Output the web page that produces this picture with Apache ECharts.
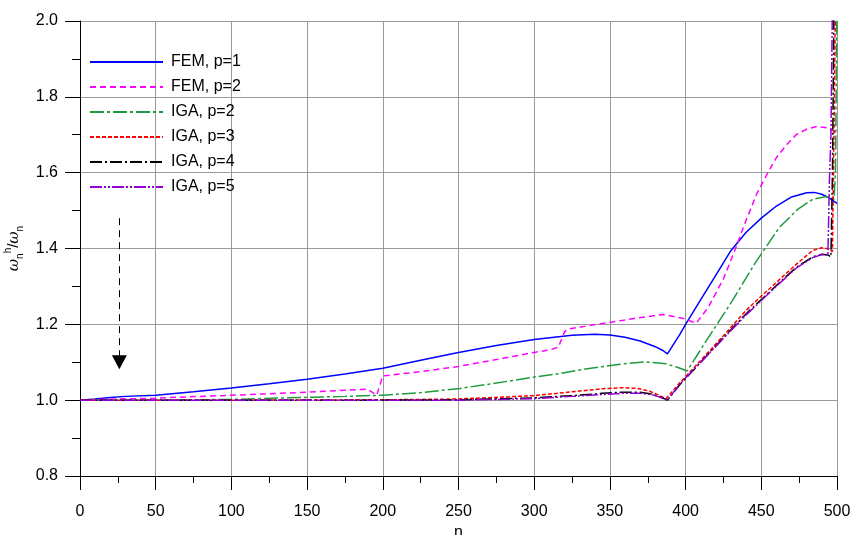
<!DOCTYPE html>
<html>
<head>
<meta charset="utf-8">
<script src="https://cdn.jsdelivr.net/npm/echarts@6/dist/echarts.min.js"></script>
<style>html,body{margin:0;padding:0;background:#fff}#c{width:855px;height:535px}</style>
</head>
<body>
<div id="c"></div>
<script>
// ---- data: [n, omega_h/omega] ----
var femP1 = [[0,1.000],[10,1.003],[20,1.007],[30,1.010],[50,1.013],[75,1.022],[100,1.032],[125,1.043],[150,1.055],[175,1.069],[200,1.084],[225,1.105],[250,1.126],[275,1.144],[300,1.160],[325,1.171],[340,1.174],[350,1.172],[360,1.166],[370,1.156],[380,1.141],[385,1.131],[388,1.122],[396,1.172],[400,1.200],[410,1.265],[420,1.330],[430,1.395],[440,1.443],[450,1.480],[460,1.512],[470,1.536],[480,1.547],[485,1.548],[490,1.543],[495,1.533],[500,1.519]];
var femP2 = [[0,1.000],[25,1.003],[50,1.005],[66,1.008],[100,1.013],[132,1.018],[150,1.021],[175,1.026],[190,1.029],[196,1.013],[200,1.064],[225,1.075],[250,1.089],[275,1.107],[300,1.126],[310,1.132],[316,1.140],[320,1.180],[322,1.187],[335,1.196],[350,1.205],[365,1.215],[385,1.226],[398,1.216],[407,1.203],[415,1.245],[425,1.320],[433,1.400],[440,1.475],[447,1.544],[455,1.605],[460,1.640],[467,1.675],[473,1.700],[480,1.715],[487,1.722],[494,1.718],[500,1.705]];
var igaP2 = [[0,1.000],[50,1.000],[100,1.002],[145,1.007],[175,1.010],[200,1.013],[225,1.020],[251,1.031],[275,1.045],[300,1.061],[317,1.070],[335,1.083],[357,1.095],[374,1.101],[387,1.096],[395,1.086],[401,1.077],[415,1.165],[431,1.263],[446,1.362],[462,1.456],[474,1.503],[484,1.530],[493,1.537],[498,1.530],[499,1.600],[500,2.050]];
var igaP3 = [[0,1.000],[100,1.000],[200,1.001],[250,1.003],[300,1.012],[325,1.022],[345,1.030],[358,1.033],[368,1.031],[376,1.024],[382,1.014],[387,1.004],[396,1.045],[410,1.105],[425,1.170],[440,1.237],[451,1.278],[462,1.318],[473,1.358],[484,1.395],[490,1.402],[494,1.399],[497,1.392],[498,1.700],[499,2.050]];
var igaP4 = [[0,1.000],[200,1.000],[250,1.001],[300,1.006],[325,1.012],[345,1.018],[358,1.021],[370,1.021],[378,1.016],[383,1.009],[388,1.000],[396,1.040],[410,1.100],[425,1.165],[440,1.228],[462,1.310],[473,1.350],[484,1.378],[490,1.385],[494,1.383],[496,1.378],[497,1.600],[498,2.050]];
var igaP5 = [[0,1.000],[200,1.000],[250,1.000],[300,1.004],[325,1.010],[345,1.015],[358,1.018],[370,1.018],[378,1.014],[383,1.008],[388,1.000],[396,1.042],[410,1.100],[425,1.163],[440,1.225],[462,1.308],[473,1.348],[484,1.376],[490,1.384],[494,1.382],[495,1.580],[496,1.700],[497,2.050]];
var seriesNames = ['FEM, p=1','FEM, p=2','IGA, p=2','IGA, p=3','IGA, p=4','IGA, p=5'];
var arrowFrom = [26, 1.48];
var arrowTo = [26, 1.10];

var chart = echarts.init(document.getElementById('c'), null, {renderer:'canvas'});
var FONT = 'Liberation Sans, Arial, sans-serif';
function mk(name, data, color, type, width, extra){
  var s = {name:name, type:'line', data:data, symbol:'none', showSymbol:false,
    lineStyle:{color:color, width:width, type:type}, itemStyle:{color:color}, z:3};
  if(extra) for(var k in extra) s[k]=extra[k];
  return s;
}
var option = {
  animation:false,
  backgroundColor:'#fff',
  grid:{left:80, right:18, top:21, bottom:59, containLabel:false, outerBoundsMode:'none'},
  legend:{
    orient:'vertical', left:89, top:54, padding:0, itemWidth:73, itemHeight:14, itemGap:9,
    data:seriesNames,
    itemStyle:{opacity:0},
    textStyle:{fontFamily:FONT, fontSize:16, color:'#000', padding:[0,0,0,3]}
  },
  xAxis:{
    type:'value', min:0, max:500, interval:50,
    name:'n', nameLocation:'middle', nameGap:39,
    nameTextStyle:{fontFamily:FONT, fontSize:16, color:'#000'},
    axisLine:{show:true, onZero:false, lineStyle:{color:'#000', width:1}},
    axisTick:{show:true, inside:false, length:14, lineStyle:{color:'#000'}},
    minorTick:{show:true, splitNumber:2, length:7, lineStyle:{color:'#000'}},
    axisLabel:{fontFamily:FONT, fontSize:16, color:'#000', margin:28},
    splitLine:{show:true, lineStyle:{color:'#9a9a9a', width:1}}
  },
  yAxis:{
    type:'value', min:0.8, max:2.0, interval:0.2,
    name:'{w|ω}{sub|n}{sup|h}{s|/}{w|ω}{sub|n}', nameLocation:'middle', nameRotate:90, nameGap:38,
    nameTextStyle:{fontFamily:FONT, fontSize:15, color:'#000',
      rich:{
        w:{fontFamily:'DejaVu Serif, serif', fontStyle:'italic', fontSize:15, color:'#000', lineHeight:22},
        s:{fontFamily:FONT, fontSize:15, color:'#000', lineHeight:22},
        sub:{fontFamily:FONT, fontSize:10, color:'#000', verticalAlign:'bottom', lineHeight:22},
        sup:{fontFamily:FONT, fontSize:10, color:'#000', verticalAlign:'top', lineHeight:22}
      }},
    axisLine:{show:true, onZero:false, lineStyle:{color:'#000', width:1}},
    axisTick:{show:true, inside:false, length:15, lineStyle:{color:'#000'}},
    minorTick:{show:true, splitNumber:2, length:8, lineStyle:{color:'#000'}},
    axisLabel:{fontFamily:FONT, fontSize:16, color:'#000', margin:22,
      formatter:function(v){return v.toFixed(1);}},
    splitLine:{show:true, lineStyle:{color:'#9a9a9a', width:1}}
  },
  series:[
    mk(seriesNames[0], femP1, '#0000ff', 'solid', 1.5, {
      markLine:{silent:true, symbol:['none','triangle'], symbolSize:[15,14],
        label:{show:false},
        lineStyle:{color:'#000', type:[7,5], width:1},
        data:[[{coord:arrowFrom},{coord:arrowTo}]]}
    }),
    mk(seriesNames[1], femP2, '#ff00ff', [6,4], 1.5),
    mk(seriesNames[2], igaP2, '#1f9a3c', [14,3,3,3], 1.5),
    mk(seriesNames[3], igaP3, '#ff0000', [4,2], 1.5),
    mk(seriesNames[4], igaP4, '#000000', [12,3,2,3], 1.5),
    mk(seriesNames[5], igaP5, '#9400d3', [12,2,2,2,2,2], 1.5)
  ]
};
chart.setOption(option);
</script>
</body>
</html>
